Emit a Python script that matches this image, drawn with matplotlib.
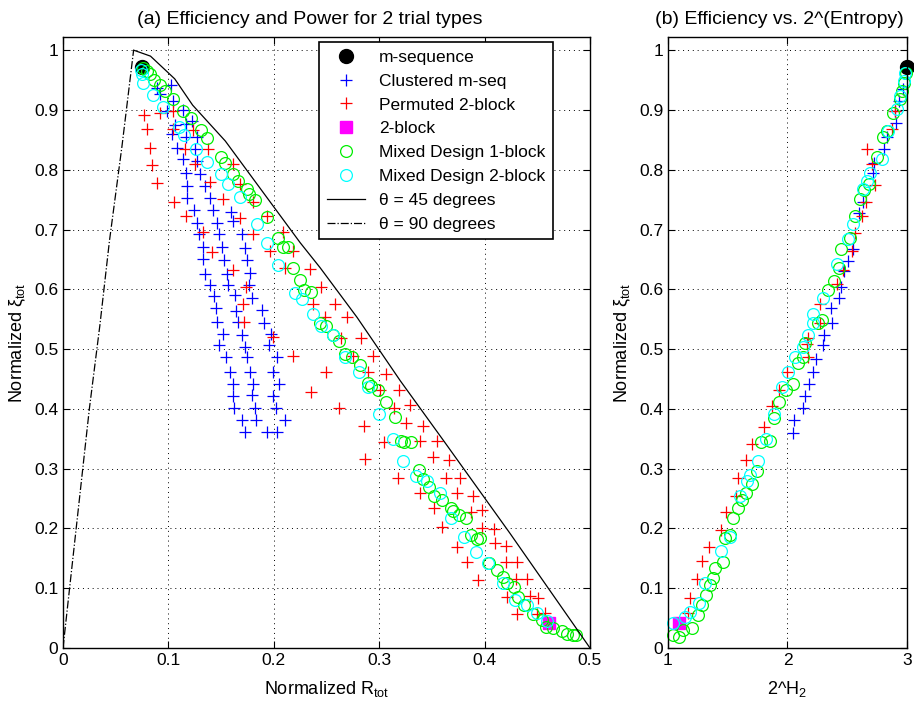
import matplotlib
matplotlib.use('Agg')
import matplotlib.pyplot as plt
import numpy as np

plt.rcParams['font.family'] = ['Liberation Sans', 'DejaVu Sans']
plt.rcParams['mathtext.fontset'] = 'custom'
plt.rcParams['mathtext.rm'] = 'Liberation Sans'
plt.rcParams['mathtext.it'] = 'Liberation Sans:italic'

"""
Panel (a) data: normalized power R_tot vs normalized efficiency xi_tot
"""
mseq_r = [0.075]
mseq_xi = [0.972]
block2_r = [0.461]
block2_xi = [0.042]

clus_r = [0.089, 0.092, 0.099, 0.106, 0.103, 0.108, 0.114, 0.117, 0.118, 0.118, 0.124, 0.127, 0.129, 0.133,
          0.133, 0.135, 0.139, 0.143, 0.145, 0.146, 0.152, 0.148, 0.155, 0.158, 0.161, 0.161, 0.162, 0.170, 0.173,
          0.102, 0.104, 0.114, 0.117, 0.117, 0.125, 0.127, 0.130, 0.135, 0.139, 0.142, 0.146, 0.148, 0.151,
          0.153, 0.156, 0.157, 0.163, 0.164, 0.166, 0.170, 0.173, 0.175, 0.177, 0.180, 0.179, 0.182, 0.183, 0.194,
          0.122, 0.127, 0.159, 0.161, 0.170, 0.173, 0.175, 0.177, 0.176, 0.179, 0.189, 0.191, 0.197, 0.195,
          0.203, 0.199, 0.205, 0.199, 0.202, 0.211, 0.203]
clus_xi = [0.937, 0.927, 0.898, 0.875, 0.860, 0.836, 0.818, 0.795, 0.773, 0.753, 0.733, 0.711, 0.693, 0.671,
           0.651, 0.626, 0.608, 0.589, 0.568, 0.546, 0.526, 0.506, 0.486, 0.462, 0.442, 0.422, 0.401, 0.382, 0.361,
           0.941, 0.915, 0.900, 0.876, 0.855, 0.835, 0.815, 0.793, 0.773, 0.753, 0.733, 0.711, 0.693, 0.671,
           0.649, 0.626, 0.608, 0.591, 0.564, 0.546, 0.524, 0.503, 0.486, 0.462, 0.442, 0.424, 0.402, 0.382, 0.361,
           0.881, 0.855, 0.730, 0.715, 0.693, 0.669, 0.649, 0.628, 0.608, 0.586, 0.566, 0.544, 0.526, 0.506,
           0.486, 0.462, 0.442, 0.422, 0.402, 0.381, 0.361]

perm_r = [0.077, 0.080, 0.083, 0.084, 0.089, 0.092, 0.104, 0.104, 0.123, 0.116, 0.138, 0.125, 0.139, 0.152,
          0.105, 0.117, 0.161, 0.168, 0.180, 0.168, 0.180, 0.194, 0.209, 0.133, 0.141, 0.161, 0.196, 0.218,
          0.234, 0.211, 0.174, 0.171, 0.245, 0.237, 0.258, 0.249, 0.269, 0.172, 0.199, 0.218, 0.250, 0.235,
          0.262, 0.264, 0.283, 0.275, 0.294, 0.289, 0.306, 0.301, 0.319, 0.314, 0.329, 0.286, 0.325, 0.342,
          0.287, 0.305, 0.339, 0.355, 0.318, 0.351, 0.366, 0.363, 0.377, 0.339, 0.374, 0.389, 0.352, 0.387,
          0.398, 0.360, 0.398, 0.409, 0.374, 0.410, 0.420, 0.383, 0.420, 0.431, 0.394, 0.430, 0.440, 0.421,
          0.443, 0.451, 0.431, 0.450, 0.457]
perm_xi = [0.891, 0.868, 0.836, 0.808, 0.778, 0.895, 0.898, 0.868, 0.866, 0.835, 0.835, 0.810, 0.780, 0.751,
           0.746, 0.723, 0.810, 0.776, 0.746, 0.720, 0.693, 0.723, 0.695, 0.695, 0.663, 0.633, 0.664, 0.664,
           0.634, 0.636, 0.603, 0.576, 0.603, 0.576, 0.576, 0.553, 0.554, 0.546, 0.521, 0.489, 0.462, 0.429,
           0.401, 0.518, 0.518, 0.489, 0.489, 0.461, 0.459, 0.431, 0.431, 0.402, 0.406, 0.372, 0.376, 0.372,
           0.316, 0.344, 0.346, 0.346, 0.285, 0.319, 0.314, 0.285, 0.285, 0.259, 0.260, 0.255, 0.234, 0.227,
           0.230, 0.202, 0.200, 0.199, 0.169, 0.175, 0.170, 0.144, 0.144, 0.144, 0.114, 0.115, 0.115, 0.085,
           0.087, 0.083, 0.057, 0.057, 0.058]

mix1_r = [0.076, 0.080, 0.083, 0.086, 0.092, 0.097, 0.104, 0.114, 0.121, 0.131, 0.137, 0.150, 0.154, 0.161,
          0.166, 0.175, 0.176, 0.182, 0.194, 0.204, 0.209, 0.213, 0.218, 0.225, 0.229, 0.235, 0.244, 0.250,
          0.256, 0.262, 0.268, 0.274, 0.282, 0.289, 0.292, 0.299, 0.306, 0.315, 0.321, 0.324, 0.330, 0.338,
          0.342, 0.347, 0.352, 0.360, 0.368, 0.370, 0.376, 0.382, 0.387, 0.393, 0.396, 0.404, 0.412, 0.417,
          0.421, 0.428, 0.432, 0.437, 0.446, 0.454, 0.458, 0.465, 0.473, 0.478, 0.484, 0.487]
mix1_xi = [0.970, 0.965, 0.960, 0.950, 0.942, 0.932, 0.918, 0.898, 0.886, 0.866, 0.853, 0.821, 0.811, 0.793,
           0.781, 0.768, 0.760, 0.750, 0.721, 0.686, 0.671, 0.670, 0.636, 0.616, 0.599, 0.596, 0.544, 0.539,
           0.523, 0.514, 0.492, 0.486, 0.474, 0.444, 0.439, 0.431, 0.412, 0.386, 0.347, 0.344, 0.344, 0.297,
           0.282, 0.269, 0.255, 0.247, 0.234, 0.229, 0.222, 0.217, 0.189, 0.182, 0.184, 0.142, 0.130, 0.119,
           0.109, 0.102, 0.085, 0.072, 0.057, 0.047, 0.035, 0.033, 0.028, 0.023, 0.022, 0.022]

mix2_r = [0.074, 0.075, 0.076, 0.085, 0.095, 0.110, 0.115, 0.126, 0.137, 0.150, 0.157, 0.168, 0.184, 0.194,
          0.204, 0.220, 0.227, 0.237, 0.245, 0.256, 0.268, 0.281, 0.289, 0.300, 0.313, 0.323, 0.335, 0.345,
          0.358, 0.368, 0.380, 0.392, 0.403, 0.417, 0.429, 0.440, 0.450, 0.459]
mix2_xi = [0.967, 0.960, 0.945, 0.925, 0.905, 0.871, 0.858, 0.835, 0.813, 0.793, 0.776, 0.755, 0.709, 0.678,
           0.641, 0.594, 0.584, 0.558, 0.539, 0.523, 0.487, 0.462, 0.436, 0.392, 0.349, 0.312, 0.287, 0.280,
           0.259, 0.217, 0.185, 0.160, 0.142, 0.109, 0.080, 0.072, 0.058, 0.045]

theta45_r = [0.067, 0.083, 0.106, 0.123, 0.154, 0.225, 0.244, 0.279, 0.320, 0.361, 0.424, 0.5]
theta45_xi = [1.0, 0.99, 0.952, 0.908, 0.848, 0.678, 0.636, 0.553, 0.447, 0.347, 0.192, 0.0]
theta90_r = [0.0, 0.025, 0.035, 0.044, 0.056, 0.067]
theta90_xi = [0.0, 0.40, 0.54, 0.68, 0.84, 1.0]

"""
Panel (b) data: 2^H2 vs normalized efficiency
"""
mseq_h = [3.0]
mseq_hxi = [0.972]
block2_h = [1.092]
block2_hxi = [0.042]

clus_h = [2.046, 2.054, 2.130, 2.146, 2.180, 2.213, 2.238, 2.297, 2.305, 2.372, 2.364, 2.431, 2.448, 2.473,
          2.506, 2.548, 2.598, 2.632, 2.715, 2.724, 2.808, 2.833, 2.908, 2.900, 2.933, 2.967]
clus_hxi = [0.359, 0.382, 0.402, 0.422, 0.442, 0.461, 0.484, 0.506, 0.523, 0.544, 0.568, 0.586, 0.604, 0.631,
            0.648, 0.668, 0.728, 0.746, 0.795, 0.811, 0.835, 0.855, 0.878, 0.898, 0.915, 0.935]

perm_h = [1.167, 1.184, 1.243, 1.285, 1.343, 1.444, 1.485, 1.569, 1.586, 1.653, 1.703, 1.803, 1.870, 1.929,
          1.996, 2.172, 2.163, 2.172, 2.272, 2.272, 2.414, 2.464, 2.540, 2.565, 2.623, 2.657, 2.732, 2.707,
          2.665, 2.874, 2.900]
perm_hxi = [0.058, 0.083, 0.115, 0.145, 0.169, 0.198, 0.227, 0.255, 0.285, 0.314, 0.342, 0.369, 0.404, 0.431,
            0.461, 0.487, 0.509, 0.518, 0.543, 0.576, 0.609, 0.633, 0.664, 0.694, 0.723, 0.746, 0.775, 0.810,
            0.835, 0.868, 0.898]

mix1_h = [1.042, 1.092, 1.126, 1.200, 1.251, 1.284, 1.318, 1.351, 1.377, 1.393, 1.460, 1.477, 1.519, 1.544,
          1.586, 1.619, 1.653, 1.703, 1.745, 1.778, 1.854, 1.887, 1.929, 1.987, 2.046, 2.088, 2.130, 2.146,
          2.255, 2.289, 2.339, 2.389, 2.431, 2.448, 2.523, 2.565, 2.607, 2.640, 2.682, 2.749, 2.799, 2.833,
          2.883, 2.941, 2.958, 2.975, 2.992]
mix1_hxi = [0.022, 0.018, 0.030, 0.033, 0.055, 0.072, 0.088, 0.105, 0.117, 0.134, 0.144, 0.184, 0.189, 0.217,
            0.234, 0.247, 0.259, 0.274, 0.296, 0.344, 0.347, 0.384, 0.412, 0.431, 0.442, 0.476, 0.486, 0.511,
            0.543, 0.549, 0.598, 0.614, 0.636, 0.668, 0.686, 0.723, 0.751, 0.766, 0.776, 0.821, 0.855, 0.865,
            0.895, 0.918, 0.932, 0.945, 0.962]

mix2_h = [1.042, 1.142, 1.184, 1.259, 1.310, 1.444, 1.519, 1.603, 1.661, 1.686, 1.753, 1.820, 1.887, 1.954,
          2.004, 2.063, 2.130, 2.172, 2.213, 2.213, 2.297, 2.414, 2.506, 2.548, 2.632, 2.665, 2.690, 2.791,
          2.841, 2.916, 2.941, 2.975, 2.983]
mix2_hxi = [0.042, 0.052, 0.060, 0.075, 0.109, 0.162, 0.185, 0.255, 0.280, 0.289, 0.312, 0.350, 0.392, 0.436,
            0.462, 0.486, 0.504, 0.523, 0.543, 0.559, 0.586, 0.643, 0.684, 0.710, 0.768, 0.781, 0.795, 0.818,
            0.865, 0.902, 0.923, 0.948, 0.962]

GREEN = '#00ee00'
YTICKS = ['0', '0.1', '0.2', '0.3', '0.4', '0.5', '0.6', '0.7', '0.8', '0.9', '1']


def style_axes(ax):
    ax.grid(True, color='k', linestyle=(0, (1, 4)), linewidth=0.7)
    ax.tick_params(direction='in', top=True, right=True, length=5, labelsize=12.5, width=0.8)
    for s in ax.spines.values():
        s.set_linewidth(1.0)


fig = plt.figure(figsize=(9.14, 7.05), dpi=100)
ax1 = fig.add_axes([63 / 914, 57 / 705, 527 / 914, 611 / 705])
ax2 = fig.add_axes([668 / 914, 57 / 705, 239 / 914, 611 / 705])

# Panel (a)
ax1.plot(mseq_r, mseq_xi, 'o', color='k', markersize=10, label='m-sequence', clip_on=False)
ax1.plot(clus_r, clus_xi, '+', color='b', markersize=8, mew=0.9, label='Clustered m-seq')
ax1.plot(perm_r, perm_xi, '+', color='r', markersize=8, mew=0.9, label='Permuted 2-block')
ax1.plot(block2_r, block2_xi, 's', color='magenta', markersize=8, label='2-block')
ax1.plot(mix1_r, mix1_xi, 'o', mfc='none', mec=GREEN, markersize=8.5, mew=0.9, label='Mixed Design 1-block')
ax1.plot(mix2_r, mix2_xi, 'o', mfc='none', mec='cyan', markersize=8.5, mew=0.9, label='Mixed Design 2-block')
ax1.plot(theta45_r, theta45_xi, '-', color='k', linewidth=0.9, label='θ = 45 degrees')
ax1.plot(theta90_r, theta90_xi, '-.', color='k', linewidth=0.9, label='θ = 90 degrees')

ax1.set_xlim(0, 0.5)
ax1.set_ylim(0, 1.022)
ax1.set_xticks([0, 0.1, 0.2, 0.3, 0.4, 0.5])
ax1.set_xticklabels(['0', '0.1', '0.2', '0.3', '0.4', '0.5'])
ax1.set_yticks(np.arange(0, 1.01, 0.1))
ax1.set_yticklabels(YTICKS)
style_axes(ax1)
ax1.set_xlabel(r'Normalized R$_{\rm tot}$', fontsize=13, labelpad=8)
ax1.set_ylabel(r'Normalized ξ$_{\rm tot}$', fontsize=13, labelpad=4)
ax1.set_title('(a) Efficiency and Power for 2 trial types', fontsize=14, x=0.468, pad=9)

leg = ax1.legend(loc='upper right', bbox_to_anchor=(0.930, 0.992), borderaxespad=0, fontsize=12.5,
                 fancybox=False, edgecolor='k', framealpha=1, handlelength=2.2, handletextpad=0.8,
                 labelspacing=0.5, borderpad=0.45)
leg.get_frame().set_linewidth(1.2)

# Panel (b)
ax2.plot(mseq_h, mseq_hxi, 'o', color='k', markersize=10, clip_on=False)
ax2.plot(clus_h, clus_hxi, '+', color='b', markersize=8, mew=0.9)
ax2.plot(perm_h, perm_hxi, '+', color='r', markersize=8, mew=0.9)
ax2.plot(block2_h, block2_hxi, 's', color='magenta', markersize=8)
ax2.plot(mix1_h, mix1_hxi, 'o', mfc='none', mec=GREEN, markersize=8.5, mew=0.9, clip_on=False)
ax2.plot(mix2_h, mix2_hxi, 'o', mfc='none', mec='cyan', markersize=8.5, mew=0.9, clip_on=False)

ax2.set_xlim(1, 3)
ax2.set_ylim(0, 1.022)
ax2.set_xticks([1, 2, 3])
ax2.set_yticks(np.arange(0, 1.01, 0.1))
ax2.set_yticklabels(YTICKS)
style_axes(ax2)
ax2.set_xlabel(r'2^H$_2$', fontsize=13, labelpad=8)
ax2.set_ylabel(r'Normalized ξ$_{\rm tot}$', fontsize=13, labelpad=4)
ax2.set_title('(b) Efficiency vs. 2^(Entropy)', fontsize=14, x=0.467, pad=9)

plt.savefig('out.png', dpi=100)
